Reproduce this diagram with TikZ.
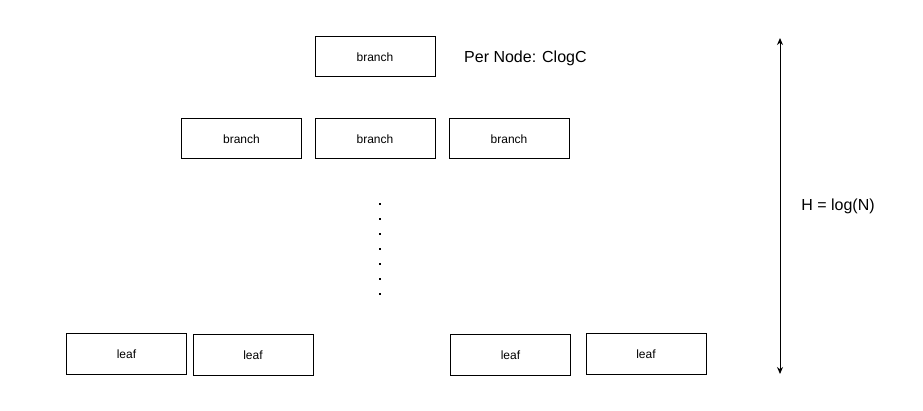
\documentclass[tikz,border=0pt]{standalone}
\usepackage{fontspec}
\setmainfont{Liberation Sans}
\usetikzlibrary{arrows.meta}
\begin{document}
\begin{tikzpicture}[x=1pt,y=-1pt,
  box/.style={draw=black,line width=1pt,minimum width=120pt,minimum height=40pt,inner sep=0pt,font=\fontsize{12}{14}\selectfont},
  big/.style={font=\fontsize{16}{19}\selectfont,inner sep=0pt},
  dotmark/.style={fill=black,minimum size=2.6pt,inner sep=0pt}]
\useasboundingbox[fill=white] (0,0) rectangle (923,411);
\node[box] (b0) at (375,57) {branch};
\node[big,anchor=west] (per) at (464,58) {Per Node: ClogC};
\node[box] (b1) at (241.5,139) {branch};
\node[box] (b2) at (375,139) {branch};
\node[box] (b3) at (509,139) {branch};
\foreach \i in {0,...,6} {
  \node[dotmark] (d\i) at (380,204+15*\i) {};
}
\node[box] (l1) at (126.5,354) {leaf};
\node[box] (l2) at (253,355) {leaf};
\node[box] (l3) at (510.5,355) {leaf};
\node[box] (l4) at (646,354) {leaf};
\coordinate (atop) at (780,38);
\coordinate (abot) at (780,374);
\draw[line width=1pt,{Stealth[length=7pt,width=6pt]}-{Stealth[length=7pt,width=6pt]}] (atop) -- (abot);
\node[big] (h) at (838,206) {H = log(N)};
\end{tikzpicture}
\end{document}
